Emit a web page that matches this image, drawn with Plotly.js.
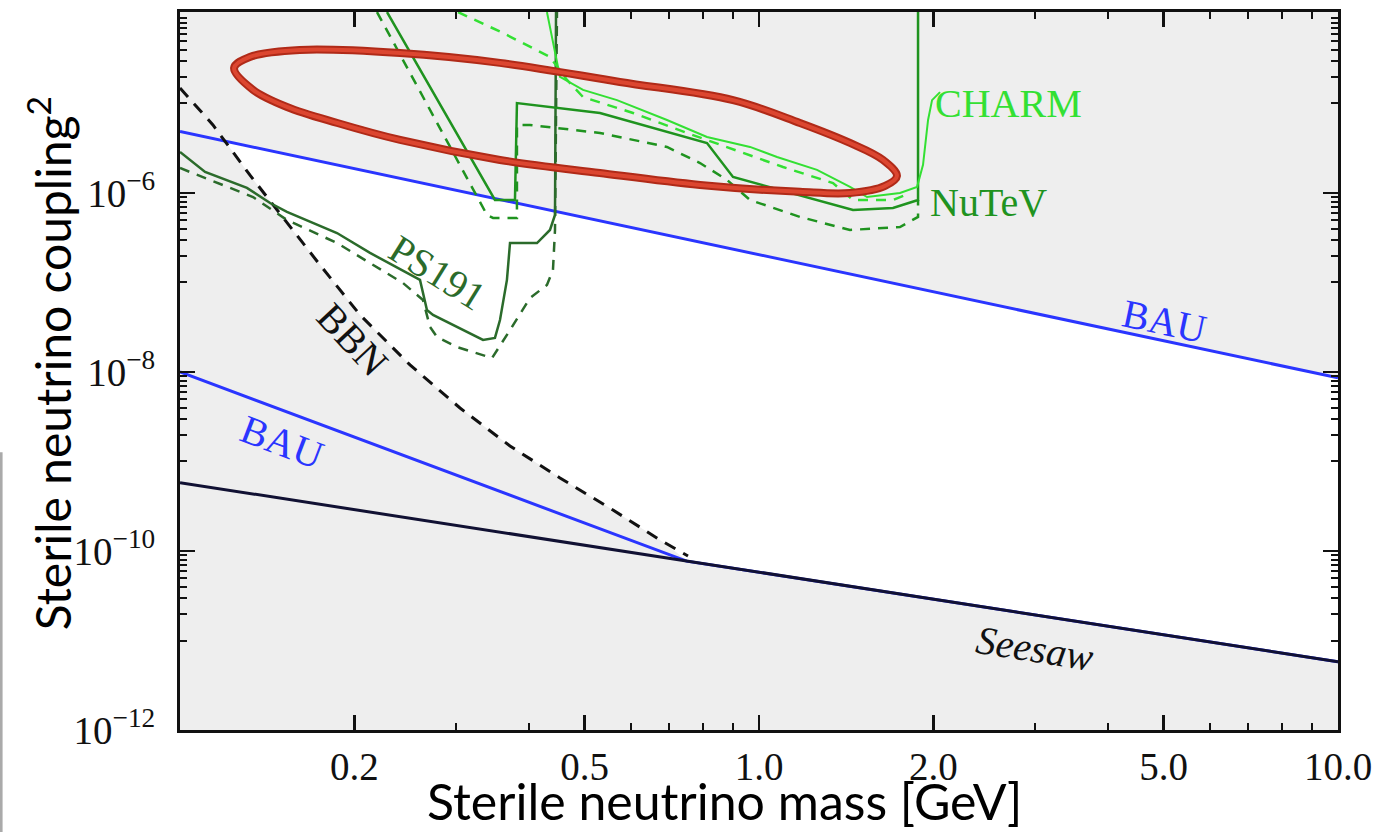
<!DOCTYPE html>
<html><head><meta charset="utf-8">
<script src="https://cdn.plot.ly/plotly-3.0.1.min.js"></script>
<style>html,body{margin:0;padding:0;background:#fff;} #chart{width:1380px;height:832px;}</style>
</head><body><div id="chart"></div>
<script>
// ---- axis ticks ----
const massTicks = [0.2, 0.5, 1, 2, 5, 10];
const massTickText = ['0.2', '0.5', '1.0', '2.0', '5.0', '10.0'];
const massMinorTicks = [0.3, 0.4, 0.6, 0.7, 0.8, 0.9, 3, 4, 6, 7, 8, 9];
const couplingTicks = [1e-12, 1e-10, 1e-8, 1e-6];
const couplingTickText = ['10<sup>\u221212</sup>', '10<sup>\u221210</sup>', '10<sup>\u22128</sup>', '10<sup>\u22126</sup>'];
const couplingMinorTicks = [
  1e-11, 2e-11, 3e-11, 4e-11, 5e-11, 6e-11, 7e-11, 8e-11, 9e-11,
  1e-9, 2e-9, 3e-9, 4e-9, 5e-9, 6e-9, 7e-9, 8e-9, 9e-9,
  1e-7, 2e-7, 3e-7, 4e-7, 5e-7, 6e-7, 7e-7, 8e-7, 9e-7,
  1e-5, 2e-5, 3e-5, 4e-5, 5e-5, 6e-5, 7e-5, 8e-5, 9e-5
];

// ---- theory lines ----
const bauUpperMass = [0.1, 10];
const bauUpperCoupling = [4.86e-6, 8.6e-9];
const bauLowerMass = [0.1, 0.75, 10];
const bauLowerCoupling = [1.0e-8, 7.7e-11, 5.8e-12];
const seesawMass = [0.1, 10];
const seesawCoupling = [5.8e-10, 5.8e-12];
const bbnMass = [0.1, 0.114, 0.132, 0.1506, 0.1745, 0.2046, 0.2496, 0.3045, 0.3715, 0.4532, 0.5595, 0.6745, 0.754];
const bbnCoupling = [1.49e-5, 5.75e-6, 1.59e-6, 5.26e-7, 1.57e-7, 4.34e-8, 1.20e-8, 3.96e-9, 1.49e-9, 6.55e-10, 2.87e-10, 1.33e-10, 8.79e-11];

// ---- allowed (white) region ----
const allowedMass = [0.1195, 10, 10, 0.754, 0.6745, 0.5595, 0.4532, 0.3715, 0.3045, 0.2496, 0.2046, 0.1745, 0.1506, 0.132, 0.1195];
const allowedCoupling = [3.8e-6, 8.6e-9, 5.8e-12, 7.7e-11, 1.33e-10, 2.87e-10, 6.55e-10, 1.49e-9, 3.96e-9, 1.20e-8, 4.34e-8, 1.57e-7, 5.26e-7, 1.59e-6, 3.8e-6];

// ---- experimental limits ----
const ps191SolidMass = [0.1, 0.1105, 0.1305, 0.1431, 0.1530, 0.1867, 0.2129, 0.2597, 0.2670, 0.2735, 0.3337, 0.3499, 0.357, 0.367, 0.3715, 0.4136, 0.4355, 0.4443, 0.4461];
const ps191SolidCoupling = [2.87e-6, 1.72e-6, 1.14e-6, 7.73e-7, 6.14e-7, 3.57e-7, 2.14e-7, 1.07e-7, 4.93e-8, 4.34e-8, 2.28e-8, 2.40e-8, 3.81e-8, 1.07e-7, 2.76e-7, 2.76e-7, 3.86e-7, 5.68e-7, 1.05e-4];
const ps191DashMass = [0.1, 0.1096, 0.1337, 0.1530, 0.1867, 0.2427, 0.2628, 0.2703, 0.2779, 0.3009, 0.3390, 0.3459, 0.3715, 0.4022, 0.4303, 0.4407, 0.4443, 0.4478];
const ps191DashCoupling = [1.90e-6, 1.51e-6, 9.02e-7, 4.99e-7, 2.76e-7, 9.87e-8, 6.37e-8, 3.18e-8, 2.46e-8, 1.90e-8, 1.47e-8, 1.43e-8, 2.94e-8, 6.71e-8, 9.37e-8, 1.38e-7, 3.86e-7, 1.05e-4];

const nutevSolidMass = [0.2278, 0.3499, 0.3789, 0.3819, 0.5313, 0.6745, 0.8132, 0.9018, 1.4535, 1.7036, 1.8823, 1.8823];
const nutevSolidCoupling = [1.05e-4, 8.35e-7, 8.35e-7, 1.01e-5, 7.83e-6, 5.06e-6, 3.62e-6, 1.51e-6, 6.45e-7, 6.79e-7, 8.35e-7, 1.05e-4];
const nutevDashMass = [0.2189, 0.3390, 0.3472, 0.3819, 0.3819, 0.4022, 0.5313, 0.6936, 0.7909, 0.8806, 0.9649, 1.1772, 1.4362, 1.7517, 1.8823, 1.8823];
const nutevDashCoupling = [1.05e-4, 5.68e-7, 5.26e-7, 5.26e-7, 5.75e-6, 5.75e-6, 4.68e-6, 3.27e-6, 2.16e-6, 1.40e-6, 8.35e-7, 5.40e-7, 3.86e-7, 4.17e-7, 5.40e-7, 8.35e-7];

const charmSolidMass = [0.4303, 0.4532, 0.4967, 0.5685, 0.6936, 0.8132, 0.9649, 1.0743, 1.2595, 1.4362, 1.5368, 1.7517, 1.8749, 1.9200, 1.9588, 1.9902, 2.0543];
const charmSolidCoupling = [1.05e-4, 1.98e-5, 1.42e-5, 1.09e-5, 6.54e-6, 4.22e-6, 3.27e-6, 2.52e-6, 1.81e-6, 1.17e-6, 9.02e-7, 1.00e-6, 1.17e-6, 2.06e-6, 6.54e-6, 1.09e-5, 1.34e-5];
const charmDashMass = [0.3021, 0.3613, 0.4355, 0.4660, 0.4967, 0.6059, 0.7511, 0.9272, 1.1003, 1.3422, 1.4535, 1.7036, 1.8233];
const charmDashCoupling = [1.05e-4, 6.13e-5, 3.31e-5, 1.83e-5, 1.18e-5, 7.83e-6, 4.68e-6, 2.87e-6, 1.95e-6, 1.29e-6, 8.35e-7, 8.35e-7, 1.00e-6];

// ---- highlighted region (red ellipse) ----
const ellipseMass = [0.124, 0.132, 0.161, 0.240, 0.357, 0.575, 0.902, 1.177, 1.436, 1.637, 1.731, 1.651, 1.436, 1.177, 0.791, 0.531, 0.357, 0.240, 0.187, 0.153, 0.1337, 0.124];
const ellipseCoupling = [2.49e-5, 3.31e-5, 3.96e-5, 3.66e-5, 2.84e-5, 1.74e-5, 1.09e-5, 6.05e-6, 3.62e-6, 2.34e-6, 1.55e-6, 1.20e-6, 1.0e-6, 1.03e-6, 1.23e-6, 1.67e-6, 2.34e-6, 3.91e-6, 6.05e-6, 9.14e-6, 1.42e-5, 2.49e-5];

// ---- labels ----
const labelText = ['CHARM', 'NuTeV', 'PS191', 'BBN', 'BAU', 'BAU', '<i>Seesaw</i>'];
const labelMass = [1.998, 1.9588, 0.2779, 0.1982, 5.025, 0.1506, 2.998];
const labelCoupling = [9.87e-6, 7.92e-7, 1.28e-7, 2.28e-8, 3.62e-8, 1.65e-9, 8.24e-12];

const C_BLUE = '#2a35ff', C_DARK = '#2b6b2b', C_MED = '#1f931f', C_BRIGHT = '#33e033';

function line(x, y, color, width, dash) {
  return {x: x, y: y, type: 'scatter', mode: 'lines', hoverinfo: 'skip',
          line: {color: color, width: width, dash: dash || 'solid'}};
}

const traces = [
  {x: allowedMass, y: allowedCoupling, type: 'scatter', mode: 'lines', fill: 'toself',
   fillcolor: '#ffffff', line: {width: 0, color: 'rgba(0,0,0,0)'}, hoverinfo: 'skip'},
  line(bauUpperMass, bauUpperCoupling, C_BLUE, 3),
  line(bauLowerMass, bauLowerCoupling, C_BLUE, 3),
  line(seesawMass, seesawCoupling, '#111133', 3),
  line(bbnMass, bbnCoupling, '#111111', 3, '12px,9px'),
  line(ps191DashMass, ps191DashCoupling, C_DARK, 2.5, '10px,8px'),
  line(ps191SolidMass, ps191SolidCoupling, C_DARK, 2.5),
  line(nutevDashMass, nutevDashCoupling, C_MED, 2.5, '10px,8px'),
  line(nutevSolidMass, nutevSolidCoupling, C_MED, 2.5),
  line(charmDashMass, charmDashCoupling, C_BRIGHT, 2.5, '10px,8px'),
  line(charmSolidMass, charmSolidCoupling, C_BRIGHT, 2),
  {x: ellipseMass, y: ellipseCoupling, type: 'scatter', mode: 'lines', hoverinfo: 'skip',
   line: {color: '#b02a18', width: 8, shape: 'spline', smoothing: 1}},
  {x: ellipseMass, y: ellipseCoupling, type: 'scatter', mode: 'lines', hoverinfo: 'skip',
   line: {color: '#dc4630', width: 4, shape: 'spline', smoothing: 1}}
];

const labelColors = [C_BRIGHT, C_MED, C_DARK, '#111111', C_BLUE, C_BLUE, '#111111'];
const labelAngles = [0, 0, 32, 47, 12, 21, 9];
const labelAnchors = ['left', 'left', 'center', 'center', 'center', 'center', 'center'];
const annotations = labelText.map((t, i) => ({
  x: Math.log10(labelMass[i]), y: Math.log10(labelCoupling[i]), xref: 'x', yref: 'y',
  text: t, showarrow: false, textangle: labelAngles[i], xanchor: labelAnchors[i], yanchor: 'middle',
  font: {family: 'Liberation Serif, Times New Roman, serif', size: 40, color: labelColors[i]}
}));
annotations.push({
  xref: 'paper', yref: 'paper', x: 0.4706, y: -0.0985, xanchor: 'center', yanchor: 'middle',
  text: 'Sterile neutrino mass [GeV]', showarrow: false,
  font: {family: 'Lato, Open Sans, sans-serif', size: 50, color: '#000'}
});
annotations.push({
  xref: 'paper', yref: 'paper', x: -0.113, y: 0.511, xanchor: 'center', yanchor: 'middle',
  text: 'Sterile neutrino coupling<sup>2</sup>', showarrow: false, textangle: -90,
  font: {family: 'Lato, Open Sans, sans-serif', size: 48, color: '#000'}
});

const axisCommon = {
  showline: true, linecolor: '#111', linewidth: 3, mirror: 'ticks', ticks: 'inside',
  tickcolor: '#111', tickwidth: 2.5, ticklen: 15, showgrid: false, zeroline: false,
  tickmode: 'array',
  tickfont: {family: 'Liberation Serif, Times New Roman, serif', size: 39, color: '#111'}
};

const layout = {
  width: 1380, height: 832,
  margin: {l: 180, r: 42, t: 12, b: 102},
  paper_bgcolor: '#ffffff', plot_bgcolor: '#eeeeee',
  showlegend: false,
  xaxis: Object.assign({}, axisCommon, {
    type: 'log', range: [-1, 1], tickvals: massTicks, ticktext: massTickText, ticklabelstandoff: 0,
    minor: {tickmode: 'array', tickvals: massMinorTicks, ticks: 'inside', ticklen: 7, tickwidth: 2, tickcolor: '#111'}
  }),
  yaxis: Object.assign({}, axisCommon, {
    type: 'log', range: [-12, -3.978], tickvals: couplingTicks, ticktext: couplingTickText, ticklabelstandoff: 14,
    minor: {tickmode: 'array', tickvals: couplingMinorTicks, ticks: 'inside', ticklen: 7, tickwidth: 2, tickcolor: '#111'}
  }),
  annotations: annotations,
  shapes: [
    {type: 'line', xref: 'paper', yref: 'paper', x0: -0.1545, x1: -0.1545, y0: 0.387, y1: -0.142,
     line: {color: '#aaaaaa', width: 3}}
  ]
};

Plotly.newPlot('chart', traces, layout, {staticPlot: true});
</script></body></html>
